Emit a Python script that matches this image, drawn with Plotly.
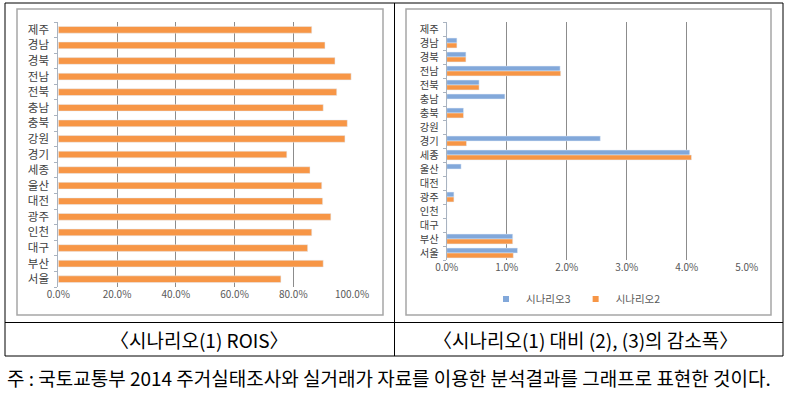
import plotly.graph_objects as go

W, H = 807, 420

# ---------------- data ----------------
regions = ["제주", "경남", "경북", "전남", "전북", "충남", "충북", "강원", "경기",
           "세종", "울산", "대전", "광주", "인천", "대구", "부산", "서울"]
rois = [86.3, 90.8, 94.2, 99.7, 94.8, 90.2, 98.4, 97.6, 77.8,
        85.7, 89.7, 90.0, 92.8, 86.3, 84.9, 90.2, 75.8]
scenario3 = [0, 0.17, 0.32, 1.89, 0.54, 0.97, 0.28, 0, 2.56,
             4.05, 0.24, 0, 0.12, 0, 0, 1.10, 1.18]
scenario2 = [0, 0.17, 0.32, 1.90, 0.54, 0, 0.28, 0, 0.33,
             4.08, 0, 0, 0.12, 0, 0, 1.10, 1.11]
left_ticks = [0, 20, 40, 60, 80, 100]
right_ticks = [0, 1, 2, 3, 4, 5]
left_ticktext = ["0.0%", "20.0%", "40.0%", "60.0%", "80.0%", "100.0%"]
right_ticktext = ["0.0%", "1.0%", "2.0%", "3.0%", "4.0%", "5.0%"]
caption_left = "〈시나리오(1) ROIS〉"
caption_right = "〈시나리오(1) 대비 (2), (3)의 감소폭〉"
note = "주 : 국토교통부 2014 주거실태조사와 실거래가 자료를 이용한 분석결과를 그래프로 표현한 것이다."

ORANGE = "#F79646"
BLUE = "#82A8DA"
FONT = "Noto Sans CJK KR"


def px(x):
    return x / W


def py(y):
    return 1 - y / H


fig = go.Figure()

fig.add_trace(go.Bar(y=regions, x=rois, orientation="h", marker_color=ORANGE,
                     xaxis="x", yaxis="y", showlegend=False, width=0.43))
fig.add_trace(go.Bar(y=regions, x=scenario3, orientation="h", marker_color=BLUE,
                     xaxis="x2", yaxis="y2", showlegend=False, offsetgroup="a"))
fig.add_trace(go.Bar(y=regions, x=scenario2, orientation="h", marker_color=ORANGE,
                     xaxis="x2", yaxis="y2", showlegend=False, offsetgroup="b"))
# legend markers
fig.add_trace(go.Scatter(x=[None], y=[None], mode="markers", name="시나리오3",
                         marker=dict(symbol="square", size=6, color=BLUE),
                         xaxis="x2", yaxis="y2"))
fig.add_trace(go.Scatter(x=[None], y=[None], mode="markers", name="시나리오2",
                         marker=dict(symbol="square", size=6, color=ORANGE),
                         xaxis="x2", yaxis="y2"))

grid = "#8C8C8C"
axline = "#A9B3C0"
tickfont = dict(family=FONT, size=10, color="#595959")
catfont = dict(family=FONT, size=11.5, color="#404040")
catfont2 = dict(family=FONT, size=10.3, color="#404040")

fig.update_layout(
    width=W, height=H,
    margin=dict(l=0, r=0, t=0, b=0),
    paper_bgcolor="white", plot_bgcolor="white",
    barmode="group",
    bargap=0.3, bargroupgap=0,
    font=dict(family=FONT),
    xaxis=dict(domain=[px(58.3), px(352)], range=[0, 100], tickmode="array",
               tickvals=left_ticks, ticktext=left_ticktext, showgrid=True,
               gridcolor=grid, gridwidth=1, zeroline=False, showline=False,
               ticks="", tickfont=tickfont, anchor="y", automargin=False),
    yaxis=dict(domain=[py(287), py(22)], autorange="reversed", type="category",
               tickmode="array", tickvals=regions,
               showline=True, linecolor=axline, linewidth=1, ticks="outside",
               tickson="boundaries", ticklen=3, tickcolor=axline,
               tickfont=catfont, showgrid=False, anchor="x", ticklabelstandoff=6,
               automargin=False),
    xaxis2=dict(domain=[px(446.7), px(746.7)], range=[0, 5], tickmode="array",
                tickvals=right_ticks, ticktext=right_ticktext, showgrid=True,
                gridcolor=grid, gridwidth=1, zeroline=False, showline=False,
                ticks="", tickfont=tickfont, anchor="y2", automargin=False),
    yaxis2=dict(domain=[py(260), py(22)], autorange="reversed", type="category",
                tickmode="array", tickvals=regions,
                showline=True, linecolor=axline, linewidth=1, ticks="outside",
                tickson="boundaries", ticklen=3, tickcolor=axline,
                tickfont=catfont2, showgrid=False, anchor="x2", ticklabelstandoff=5,
                automargin=False),
    legend=dict(orientation="h", x=px(576), xanchor="center", y=py(299),
                yanchor="middle", font=dict(family=FONT, size=10.5, color="#595959"),
                itemwidth=30, bgcolor="rgba(0,0,0,0)"),
)

shapes = []
# chart frames
for x0, x1 in [(17, 383), (406, 771)]:
    shapes.append(dict(type="rect", xref="paper", yref="paper",
                       x0=px(x0), x1=px(x1), y0=py(315), y1=py(9),
                       line=dict(color="#A6A6A6", width=1.5), layer="below"))
# table lines
black = dict(color="black", width=1)
shapes.append(dict(type="rect", xref="paper", yref="paper", x0=px(5), x1=px(783),
                   y0=py(356), y1=py(3), line=black))
shapes.append(dict(type="line", xref="paper", yref="paper", x0=px(394.5), x1=px(394.5),
                   y0=py(356), y1=py(3), line=black))
shapes.append(dict(type="line", xref="paper", yref="paper", x0=px(5), x1=px(783),
                   y0=py(322.5), y1=py(322.5), line=black))
fig.update_layout(shapes=shapes)

fig.add_annotation(x=px(199), y=py(339), xref="paper", yref="paper", text=caption_left,
                   showarrow=False, font=dict(family=FONT, size=19, color="black"),
                   xanchor="center", yanchor="middle")
fig.add_annotation(x=px(585), y=py(339), xref="paper", yref="paper", text=caption_right,
                   showarrow=False, font=dict(family=FONT, size=19, color="black"),
                   xanchor="center", yanchor="middle")
fig.add_annotation(x=px(5), y=py(377), xref="paper", yref="paper", text=note,
                   showarrow=False, font=dict(family=FONT, size=19, color="black"),
                   xanchor="left", yanchor="middle")

fig.write_html("out.html", config={"displayModeBar": False},
               post_script="document.body.style.margin='0';document.body.style.padding='0';")
